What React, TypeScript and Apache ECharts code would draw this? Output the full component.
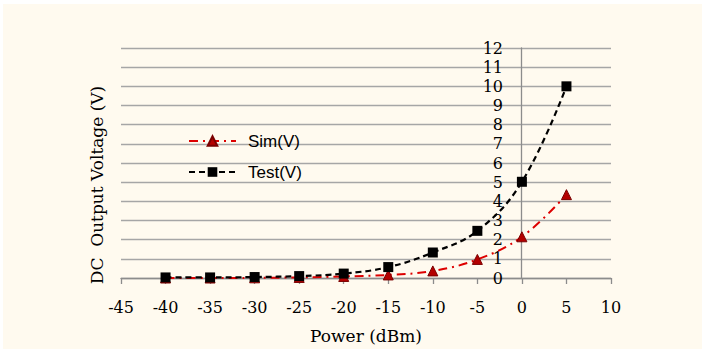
import React, { useEffect, useRef } from "react";
import * as echarts from "echarts";

const powerDbm = [-40, -35, -30, -25, -20, -15, -10, -5, 0, 5];
const simV = [0.0, 0.0, 0.01, 0.03, 0.08, 0.16, 0.37, 0.97, 2.15, 4.35];
const testV = [0.03, 0.03, 0.05, 0.1, 0.23, 0.57, 1.33, 2.46, 5.02, 10.0];
const seriesNames = ["Sim(V)", "Test(V)"];
const xTitle = "Power (dBm)";
const yTitle = "DC  Output Voltage (V)";

export default function App() {
  const ref = useRef<HTMLDivElement>(null);
  useEffect(() => {
    if (!ref.current) return;
    const chart = echarts.init(ref.current, null, { renderer: "svg" });
    const serif = "DejaVu Serif";
    chart.setOption({
      animation: false,
      backgroundColor: "transparent",
      grid: { left: 121, right: 91, top: 48, bottom: 65, containLabel: false },
      legend: {
        orient: "vertical",
        left: 188,
        top: 131,
        padding: 0,
        itemGap: 11,
        itemWidth: 47,
        itemHeight: 12,
        data: seriesNames,
        textStyle: {
          fontFamily: "Liberation Sans",
          fontSize: 17,
          color: "#000",
          lineHeight: 20,
          padding: [0, 0, 0, 7],
        },
      },
      xAxis: {
        type: "value",
        min: -45,
        max: 10,
        interval: 5,
        axisLine: { show: true, onZero: false, lineStyle: { color: "#8c8c8c", width: 1.3 } },
        axisTick: { show: true, inside: false, length: 6, lineStyle: { color: "#8c8c8c", width: 1.3 } },
        splitLine: { show: false },
        axisLabel: { fontFamily: serif, fontSize: 16, color: "#000", margin: 21 },
        name: xTitle,
        nameLocation: "middle",
        nameGap: 49,
        nameTextStyle: { fontFamily: serif, fontSize: 17, color: "#000" },
      },
      yAxis: {
        type: "value",
        min: 0,
        max: 12,
        interval: 1,
        position: "left",
        offset: -400,
        axisLine: { show: true, onZero: false, lineStyle: { color: "#8c8c8c", width: 1.3 } },
        axisTick: { show: false },
        splitLine: { show: true, lineStyle: { color: "#a6a6a6", width: 1.3 } },
        axisLabel: { fontFamily: serif, fontSize: 16, color: "#000", margin: 18 },
      },
      graphic: [
        {
          type: "text",
          x: 97,
          y: 185,
          rotation: Math.PI / 2,
          style: {
            text: yTitle,
            fontFamily: serif,
            fontSize: 17,
            fill: "#000",
            align: "center",
            verticalAlign: "middle",
          },
        },
      ],
      series: [
        {
          name: seriesNames[0],
          type: "line",
          smooth: 0.4,
          data: powerDbm.map((p, i) => [p, simV[i]]),
          symbol: "triangle",
          symbolSize: 10,
          itemStyle: { color: "#b40000", borderColor: "#7a0000", borderWidth: 1 },
          lineStyle: { color: "#dd0000", width: 2, type: [9, 5, 2, 5] },
          z: 2,
        },
        {
          name: seriesNames[1],
          type: "line",
          smooth: 0.4,
          data: powerDbm.map((p, i) => [p, testV[i]]),
          symbol: "rect",
          symbolSize: 10,
          itemStyle: { color: "#000", borderColor: "#000", borderWidth: 0 },
          lineStyle: { color: "#000", width: 2.2, type: [6, 4] },
          z: 3,
        },
      ],
    });
    return () => chart.dispose();
  }, []);
  return (
    <div style={{ position: "fixed", left: 0, top: 0, width: 702, height: 349, background: "#ffffff" }}>
      <div style={{ position: "absolute", left: 3, top: 4, right: 0, bottom: 0, background: "#fffaef" }} />
      <div ref={ref} style={{ position: "absolute", left: 0, top: 0, width: 702, height: 349 }} />
    </div>
  );
}
